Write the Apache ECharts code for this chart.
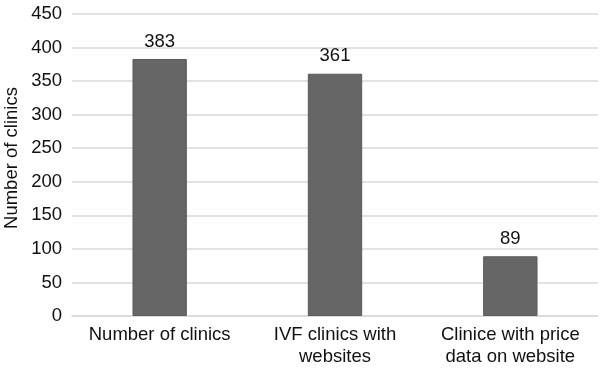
<!DOCTYPE html>
<html>
<head>
<meta charset="utf-8">
<script src="https://cdn.jsdelivr.net/npm/echarts@6/dist/echarts.min.js"></script>
<style>
  html, body { margin: 0; padding: 0; background: #fff; }
  #chart { width: 608px; height: 368px; }
</style>
</head>
<body>
<div id="chart"></div>
<script>
var categories = ['Number of clinics', 'IVF clinics with\nwebsites', 'Clinice with price\ndata on website'];
var clinicCounts = [383, 361, 89];
var yTicks = { min: 0, max: 450, interval: 50 };

var myChart = echarts.init(document.getElementById('chart'));
var font = 'Liberation Sans, Arial, Helvetica, sans-serif';

var option = {
    animation: false,
    grid: { left: 72, right: 10, top: 14, bottom: 52, outerBoundsMode: 'none', containLabel: false },
    xAxis: {
        type: 'category',
        data: categories,
        axisLine: { lineStyle: { color: '#d9d9d9', width: 1.5 } },
        axisTick: { show: false },
        axisLabel: {
            color: '#111',
            fontSize: 18.5,
            fontFamily: font,
            lineHeight: 22,
            margin: 8,
            interval: 0
        }
    },
    yAxis: {
        type: 'value',
        min: yTicks.min,
        max: yTicks.max,
        interval: yTicks.interval,
        name: 'Number of clinics',
        nameLocation: 'middle',
        nameGap: 51,
        nameMoveOverlap: false,
        nameTextStyle: { color: '#111', fontSize: 18.5, fontFamily: font, padding: [0, 0, 0, 14] },
        axisLine: { show: false },
        axisTick: { show: false },
        axisLabel: { color: '#111', fontSize: 18.5, fontFamily: font, margin: 10 },
        splitLine: { lineStyle: { color: '#d9d9d9', width: 1.5 } }
    },
    series: [{
        type: 'bar',
        data: clinicCounts,
        barWidth: '31%',
        itemStyle: { color: '#666666', borderColor: '#5a5a5a', borderWidth: 1 },
        label: {
            show: true,
            position: 'top',
            distance: 8,
            color: '#111',
            fontSize: 18.5,
            fontFamily: font
        }
    }]
};

myChart.setOption(option);
</script>
</body>
</html>
